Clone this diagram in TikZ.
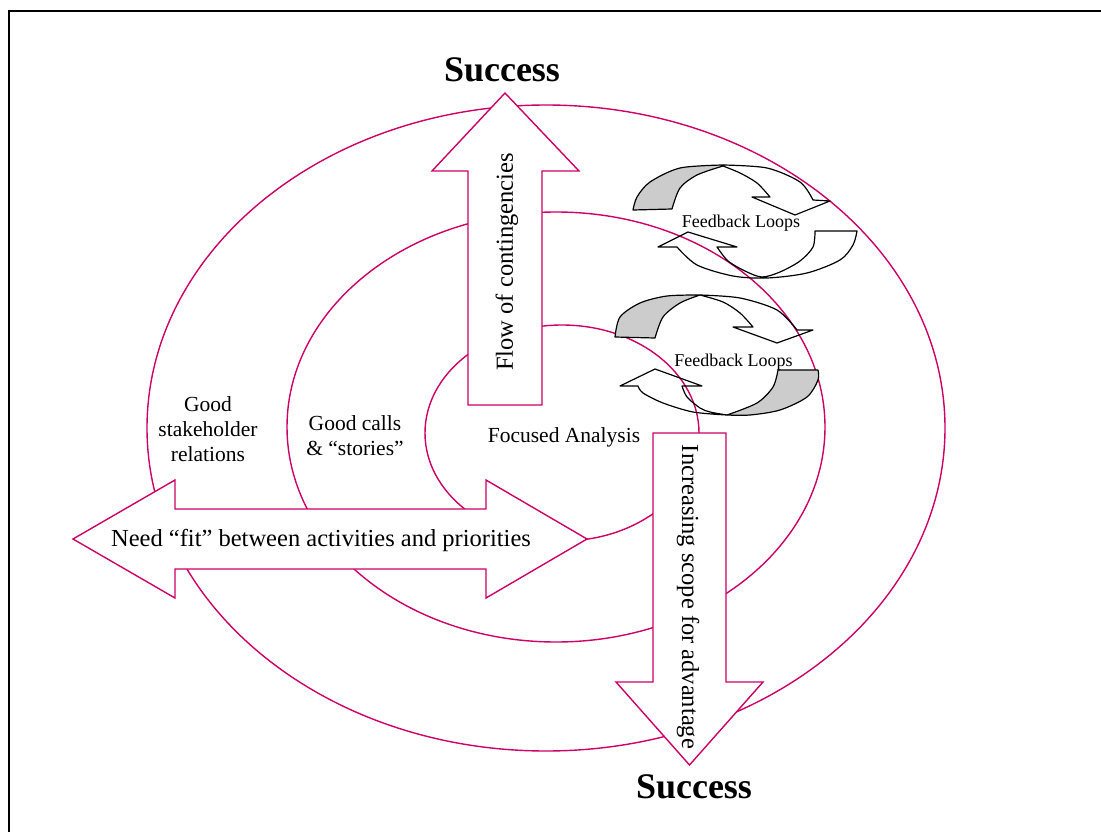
\documentclass[tikz,border=0pt]{standalone}
\usepackage{fontspec}
\setmainfont{Liberation Serif}
\definecolor{ringred}{RGB}{204,0,102}

\begin{document}
\begin{tikzpicture}[x=1pt,y=-1pt,
  ring/.style={draw=ringred,line width=1.4pt},
  blockarrow/.style={draw=ringred,line width=1.4pt,fill=white,line join=miter},
  loopline/.style={draw=black,line width=1.2pt,line join=round},
  backface/.style={loopline,fill=gray!40},
  looptext/.style={font=\fontsize{18}{20}\selectfont},
  ringtext/.style={font=\fontsize{21.5}{25}\selectfont,align=center},
  arrowtext/.style={font=\fontsize{24.5}{28}\selectfont},
  goal/.style={font=\fontsize{36}{40}\selectfont\bfseries}]
  \useasboundingbox (0,0) rectangle (1101,832);
  \fill[white] (0,0) rectangle (1101,832);
  \draw[line width=1.5pt] (9,850) |- (1120,11);

  % three rings
  \draw[ring] (546,428) ellipse[x radius=399,y radius=323];
  \draw[ring] (556,427) ellipse[x radius=269,y radius=215];
  \draw[ring] (562,433) ellipse[x radius=137,y radius=108];

  % block arrows
  \draw[blockarrow] (468,405) -- (468,171) -- (432,171) -- (505,93) -- (579,171)
    -- (542,171) -- (542,405) -- cycle;
  \draw[blockarrow] (653,433) -- (726,433) -- (726,682) -- (763,682) -- (689.5,765)
    -- (616,682) -- (653,682) -- cycle;
  \draw[blockarrow] (73,539) -- (175,480) -- (175,509) -- (486,509) -- (486,480)
    -- (587,539) -- (486,598) -- (486,569) -- (175,569) -- (175,598) -- cycle;

  % feedback loops, upper
  \draw[backface] plot[smooth] coordinates {(723,165) (680,168) (650,182) (637,197) (633,210)}
    -- (672,209) -- plot[smooth] coordinates {(672,209) (680,188) (697,175) (723,166)} -- cycle;
  \draw[loopline] plot[smooth] coordinates {(723,165) (767,168) (800,182) (813,200)}
    -- (830,201) -- (795,215) -- (752,197) -- (770,197)
    -- plot[smooth] coordinates {(770,197) (757,183) (740,173) (723,166)};
  \draw[loopline] plot[smooth] coordinates {(677,247) (697,265) (733,276) (767,278) (807,273) (840,260) (853,245) (857,231)}
    -- (815,231) -- plot[smooth] coordinates {(815,231) (813,247) (800,261) (780,272) (762,277) (745,271) (728,261) (717,247)}
    -- (737,247) -- (688,232) -- (658,247) -- cycle;
  \node[looptext,anchor=base] (fbtop) at (741,227) {Feedback Loops};

  % feedback loops, lower
  \draw[backface] plot[smooth] coordinates {(700,295) (667,296) (640,303) (620,317) (615,337)}
    -- (655,338) -- plot[smooth] coordinates {(655,338) (663,317) (680,303) (700,295)} -- cycle;
  \draw[loopline] plot[smooth] coordinates {(700,295) (740,298) (777,310) (797,330)}
    -- (813,330) -- (777,343) -- (733,327) -- (753,327)
    -- plot[smooth] coordinates {(753,327) (740,313) (723,302) (700,295)};
  \draw[backface] plot[smooth] coordinates {(727,415) (750,415) (780,410) (807,397) (818,380) (818,370)}
    -- (778,370) -- plot[smooth] coordinates {(778,370) (773,387) (757,403) (727,415)} -- cycle;
  \draw[loopline] plot[smooth] coordinates {(638,386) (643,393) (663,403) (693,412) (727,415)}
    -- plot[smooth] coordinates {(727,415) (710,412) (700,408) (687,397) (682,386)}
    -- (702,386) -- (655,369) -- (620,386) -- cycle;
  \node[looptext,anchor=base] (fbbot) at (733.5,366) {Feedback Loops};

  % labels
  \node[goal,anchor=base] (succtop) at (502,82) {Success};
  \node[goal,anchor=base] (succbot) at (694,798) {Success};
  \node[arrowtext,rotate=90] (flow) at (507,262) {Flow of contingencies};
  \node[arrowtext,rotate=-90] (scope) at (688,597) {Increasing scope for advantage};
  \node[arrowtext,anchor=base] (fit) at (321,546) {Need “fit” between activities and priorities};
  \node[ringtext] (relations) at (208,429) {Good\\stakeholder\\relations};
  \node[ringtext] (calls) at (355,436) {Good calls\\\& “stories”};
  \node[ringtext,anchor=base] (focus) at (564,442) {Focused Analysis};
\end{tikzpicture}
\end{document}
